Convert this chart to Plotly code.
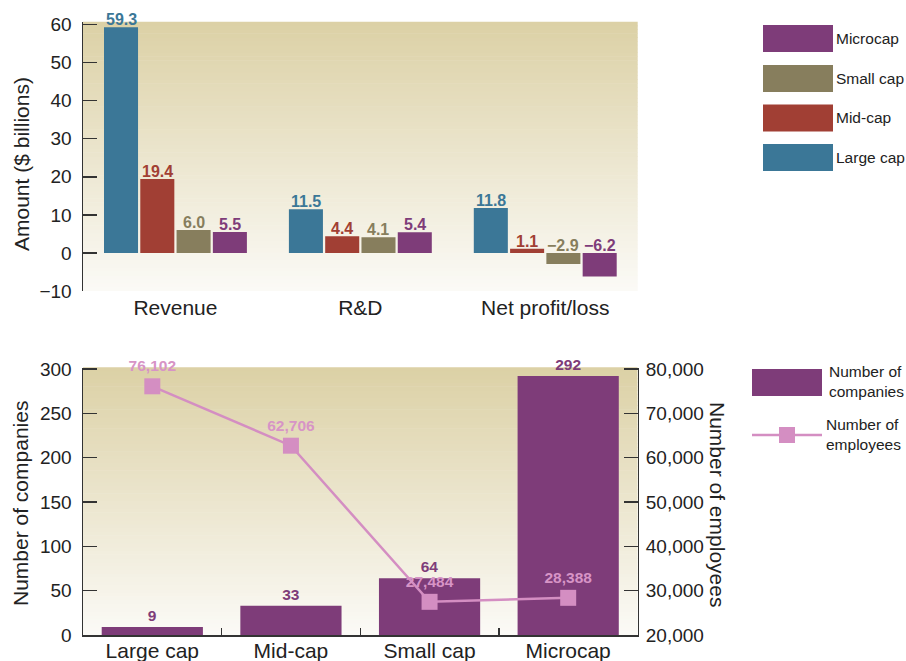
import plotly.graph_objects as go

# ---------------- data ----------------
metrics = ["Revenue", "R&D", "Net profit/loss"]
series_names = ["Large cap", "Mid-cap", "Small cap", "Microcap"]
large_cap = [59.3, 11.5, 11.8]
mid_cap = [19.4, 4.4, 1.1]
small_cap = [6.0, 4.1, -2.9]
microcap = [5.5, 5.4, -6.2]
series_values = [large_cap, mid_cap, small_cap, microcap]

size_classes = ["Large cap", "Mid-cap", "Small cap", "Microcap"]
num_companies = [9, 33, 64, 292]
num_employees = [76102, 62706, 27484, 28388]

amount_ticks = [-10, 0, 10, 20, 30, 40, 50, 60]
company_ticks = [0, 50, 100, 150, 200, 250, 300]
employee_ticks = [20000, 30000, 40000, 50000, 60000, 70000, 80000]

# ---------------- styles ----------------
W, H = 906, 661
FONT = "Liberation Sans, Arial, Helvetica, sans-serif"
TXT = "#222222"
AXC = "#333333"
colors = ["#3B7797", "#A13F34", "#877E5D", "#7E3C79"]
PURPLE = "#7E3C79"
PINK = "#D48EC2"
PINK_TXT = "#D794C6"
GRAD_TOP = (220, 209, 166)
GRAD_BOT = (251, 250, 246)


def px(x):
    return x / W


def py(y):
    return 1 - y / H


top_dom_x = [px(83), px(637.7)]
top_dom_y = [py(291), py(22.3)]
bot_dom_x = [px(83), px(637.5)]
bot_dom_y = [py(635), py(367.7)]
top_range = [-10, 60.58]
bot_range = [0, 301.5]
emp_range = [20000, 20000 + 60000 * bot_range[1] / 300]

BARGAP = 0.215
BARGROUPGAP = 0.062

fig = go.Figure()

# top grouped bars
for name, vals, c in zip(series_names, series_values, colors):
    fig.add_trace(go.Bar(
        x=metrics, y=vals, name=name, marker=dict(color=c, line=dict(width=0)),
        xaxis="x", yaxis="y", showlegend=False,
    ))

# bottom bars
fig.add_trace(go.Bar(
    x=size_classes, y=num_companies, name="Number of companies",
    marker=dict(color=PURPLE, line=dict(width=0)), width=0.73,
    text=num_companies, texttemplate="<b>%{y}</b>", textposition="outside",
    textfont=dict(color=PURPLE, size=15.5, family=FONT), cliponaxis=False,
    xaxis="x2", yaxis="y2", showlegend=False,
))

# bottom line (employees)
fig.add_trace(go.Scatter(
    x=size_classes, y=num_employees, name="Number of employees",
    mode="lines+markers+text",
    line=dict(color=PINK, width=2.5),
    marker=dict(symbol="square", size=16, color=PINK),
    texttemplate="<b>%{y:,}</b>", textposition="top center",
    textfont=dict(color=PINK_TXT, size=15.5, family=FONT), cliponaxis=False,
    xaxis="x2", yaxis="y4", showlegend=False,
))

# ---------------- gradient backgrounds ----------------
shapes = []
N = 70
for xd, yd in (("x domain", "y domain"), ("x2 domain", "y2 domain")):
    for i in range(N):
        t = i / (N - 1)
        r = [round(GRAD_BOT[k] + (GRAD_TOP[k] - GRAD_BOT[k]) * t) for k in range(3)]
        shapes.append(dict(
            type="rect", xref=xd, yref=yd, x0=0, x1=1,
            y0=i / N, y1=(i + 1) / N + 0.002, layer="below",
            line=dict(width=0), fillcolor=f"rgb({r[0]},{r[1]},{r[2]})",
        ))

annotations = []

# top bar value labels
cat_px = (top_dom_x[1] - top_dom_x[0]) * W / len(metrics)
slot = cat_px * (1 - BARGAP) / len(series_names)
for i, (vals, c) in enumerate(zip(series_values, colors)):
    off = (i - (len(series_names) - 1) / 2) * slot
    for m, v in zip(metrics, vals):
        label = f"{v:.1f}".replace("-", "\u2212")
        annotations.append(dict(
            x=m, y=max(v, 0), xref="x", yref="y", xshift=off, yshift=-3,
            xanchor="center", yanchor="bottom", showarrow=False, text=f"<b>{label}</b>",
            font=dict(color=c, size=16, family=FONT),
        ))

# axis titles
title_font = dict(size=21, color=TXT, family=FONT)
annotations += [
    dict(x=px(21), y=py(164), xref="paper", yref="paper", text="Amount ($ billions)",
         textangle=-90, xanchor="center", yanchor="middle", showarrow=False, font=title_font),
    dict(x=px(20), y=py(504), xref="paper", yref="paper", text="Number of companies",
         textangle=-90, xanchor="center", yanchor="middle", showarrow=False, font=title_font),
    dict(x=px(718), y=py(504), xref="paper", yref="paper", text="Number of employees",
         textangle=90, xanchor="center", yanchor="middle", showarrow=False, font=title_font),
]

# top legend (manual swatches), listed in reverse series order
leg_font = dict(size=15.5, color=TXT, family=FONT)
leg_tops = [25, 65, 104.5, 144]
for top, name, c in zip(leg_tops, series_names[::-1], colors[::-1]):
    shapes.append(dict(type="rect", xref="paper", yref="paper",
                       x0=px(763), x1=px(833), y0=py(top + 27), y1=py(top),
                       fillcolor=c, line=dict(width=0)))
    annotations.append(dict(x=px(834), y=py(top + 13.5), xref="paper", yref="paper",
                            xanchor="left", yanchor="middle", showarrow=False,
                            text=name, font=leg_font))

# bottom legend
shapes.append(dict(type="rect", xref="paper", yref="paper",
                   x0=px(752), x1=px(822), y0=py(396), y1=py(369),
                   fillcolor=PURPLE, line=dict(width=0)))
annotations.append(dict(x=px(827), y=py(381), xref="paper", yref="paper",
                        xanchor="left", yanchor="middle", align="left", showarrow=False,
                        text="Number of<br>companies", font=leg_font))
shapes.append(dict(type="line", xref="paper", yref="paper",
                   x0=px(752), x1=px(822), y0=py(435), y1=py(435),
                   line=dict(color=PINK, width=2.5)))
shapes.append(dict(type="rect", xref="paper", yref="paper",
                   x0=px(779), x1=px(795), y0=py(443), y1=py(427),
                   fillcolor=PINK, line=dict(width=0)))
annotations.append(dict(x=px(824), y=py(434), xref="paper", yref="paper",
                        xanchor="left", yanchor="middle", align="left", showarrow=False,
                        text="Number of<br>employees", font=leg_font))

zero_pos = top_dom_y[0] + (0 - top_range[0]) / (top_range[1] - top_range[0]) * (top_dom_y[1] - top_dom_y[0])

tickfont = dict(size=19, color=TXT, family=FONT)
catfont = dict(size=21, color=TXT, family=FONT)

fig.update_layout(
    template="none",
    width=W, height=H, autosize=False,
    margin=dict(l=0, r=0, t=0, b=0, pad=0),
    paper_bgcolor="white", plot_bgcolor="white",
    barmode="group", bargap=BARGAP, bargroupgap=BARGROUPGAP,
    font=dict(family=FONT, color=TXT),
    showlegend=False,
    hovermode=False,
    xaxis=dict(domain=top_dom_x, anchor="y", type="category", range=[-0.5, 2.5],
               showline=False, ticks="", showgrid=False, tickfont=catfont,
               ticklabelstandoff=2, automargin=False),
    yaxis=dict(domain=top_dom_y, anchor="x", range=top_range, tickvals=amount_ticks,
               showgrid=False, zeroline=False, showline=True, linecolor=AXC, linewidth=1.5,
               ticks="inside", ticklen=14, tickwidth=1.5, tickcolor=AXC, tickfont=tickfont,
               ticklabelstandoff=6, automargin=False),
    xaxis3=dict(overlaying="x", anchor="free", position=zero_pos, range=[-0.5, 2.5],
                type="linear", tickvals=[0.5, 1.5, 2.5], showticklabels=False,
                showline=True, linecolor=AXC, linewidth=1.5, ticks="inside", ticklen=7,
                tickwidth=1.5, tickcolor=AXC, showgrid=False, zeroline=False,
                automargin=False),
    xaxis2=dict(domain=bot_dom_x, anchor="y2", type="category", range=[-0.5, 3.5],
                showline=True, linecolor=AXC, linewidth=1.5, ticks="inside",
                tickson="boundaries", ticklen=7, tickwidth=1.5, tickcolor=AXC,
                showgrid=False, tickfont=catfont, ticklabelstandoff=-4, automargin=False),
    yaxis2=dict(domain=bot_dom_y, anchor="x2", range=bot_range, tickvals=company_ticks,
                showgrid=False, zeroline=False, showline=True, linecolor=AXC, linewidth=1.5,
                ticks="inside", ticklen=14, tickwidth=1.5, tickcolor=AXC, tickfont=tickfont,
                ticklabelstandoff=6, automargin=False),
    yaxis4=dict(overlaying="y2", anchor="x2", side="right", range=emp_range,
                tickvals=employee_ticks, tickformat=",", showgrid=False, zeroline=False,
                showline=True, linecolor=AXC, linewidth=1.5, ticks="inside", ticklen=14,
                tickwidth=1.5, tickcolor=AXC, tickfont=tickfont, ticklabelstandoff=3,
                automargin=False),
    shapes=shapes,
    annotations=annotations,
)

# remove the default page margin so the 906x661 figure fills the window exactly
fig.write_html("out.html",
               config={"displayModeBar": False, "staticPlot": True},
               post_script="document.body.style.margin='0';document.body.style.overflow='hidden';")
